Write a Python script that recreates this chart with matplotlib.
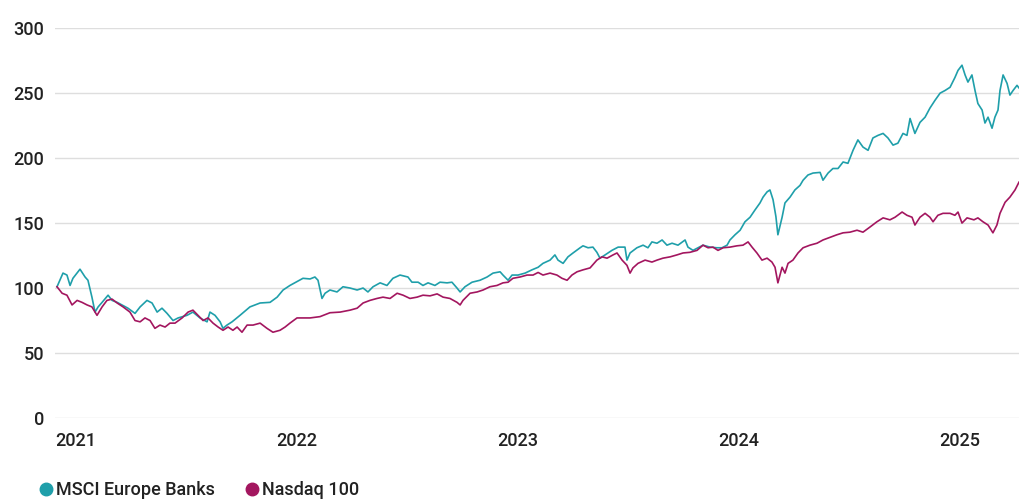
import matplotlib
matplotlib.use("Agg")
import matplotlib.pyplot as plt
from matplotlib.lines import Line2D

plt.rcParams['font.family'] = ['Roboto', 'DejaVu Sans']

# Time in decimal years (2021.0 = 1 Jan 2021)
banks_t = [2021.009, 2021.036, 2021.054, 2021.068, 2021.081, 2021.113, 2021.136, 2021.149, 2021.167, 2021.181,
           2021.195, 2021.213, 2021.240, 2021.258, 2021.281, 2021.303, 2021.330, 2021.362, 2021.385, 2021.416,
           2021.439, 2021.462, 2021.484, 2021.507, 2021.534, 2021.557, 2021.597, 2021.624, 2021.656, 2021.688,
           2021.701, 2021.724, 2021.747, 2021.760, 2021.778, 2021.801, 2021.837, 2021.882, 2021.928, 2021.973,
           2022.005, 2022.032, 2022.063, 2022.095, 2022.122, 2022.154, 2022.176, 2022.190, 2022.208, 2022.222,
           2022.244, 2022.276, 2022.303, 2022.335, 2022.367, 2022.394, 2022.416, 2022.439, 2022.471, 2022.502,
           2022.529, 2022.561, 2022.597, 2022.615, 2022.643, 2022.665, 2022.688, 2022.719, 2022.742, 2022.774,
           2022.796, 2022.819, 2022.833, 2022.855, 2022.887, 2022.923, 2022.955, 2022.982, 2023.014, 2023.027,
           2023.050, 2023.068, 2023.095, 2023.127, 2023.158, 2023.186, 2023.208, 2023.240, 2023.262, 2023.276,
           2023.299, 2023.321, 2023.344, 2023.376, 2023.389, 2023.412, 2023.434, 2023.452, 2023.466, 2023.489,
           2023.520, 2023.548, 2023.579, 2023.588, 2023.602, 2023.633, 2023.661, 2023.683, 2023.701, 2023.724,
           2023.747, 2023.769, 2023.792, 2023.819, 2023.851, 2023.864, 2023.887, 2023.910, 2023.932, 2023.964,
           2023.995, 2024.018, 2024.041, 2024.054, 2024.077, 2024.100, 2024.122, 2024.145, 2024.167, 2024.190,
           2024.204, 2024.222, 2024.235, 2024.249, 2024.262, 2024.271, 2024.290, 2024.303, 2024.326, 2024.348,
           2024.371, 2024.385, 2024.407, 2024.430, 2024.462, 2024.475, 2024.498, 2024.520, 2024.543, 2024.566,
           2024.588, 2024.611, 2024.633, 2024.656, 2024.679, 2024.701, 2024.724, 2024.747, 2024.769, 2024.792,
           2024.814, 2024.837, 2024.855, 2024.869, 2024.891, 2024.914, 2024.937, 2024.959, 2024.982, 2025.005,
           2025.027, 2025.050, 2025.072, 2025.086, 2025.104, 2025.118, 2025.131, 2025.149, 2025.163, 2025.176,
           2025.195, 2025.208, 2025.222, 2025.240, 2025.253, 2025.267, 2025.276, 2025.290, 2025.308, 2025.321,
           2025.335, 2025.353, 2025.362]
banks_v = [101, 111.5, 110, 102, 107.5, 114.5, 108.5, 106, 93, 81.5,
           85.5, 89, 94.5, 90.5, 89, 87, 84.5, 80.5, 85.5, 90.5,
           88.5, 81.5, 84.5, 80.5, 75, 77, 79, 81.5, 77, 74,
           81.5, 79, 74, 69, 71.5, 74, 79, 85.5, 88.5, 89,
           93, 98.5, 102, 105, 107.5, 107, 108.5, 106, 92, 96,
           98.5, 97, 101, 100, 98.5, 100, 97, 101, 104, 102,
           107.5, 110, 108.5, 104.5, 104.5, 102, 104, 102, 104.5, 104,
           104.5, 100, 97, 101, 104.5, 106, 108.5, 111.5, 112.5, 110,
           106, 110, 110, 111.5, 114, 116, 119, 121.5, 125.5, 121.5,
           119, 124, 127, 131, 132.5, 131, 131.5, 127.5, 123, 125.5,
           129, 131.5, 131.5, 121.5, 127, 131, 133, 131, 135.5, 134.5,
           137, 133, 134.5, 133, 137, 131.5, 129, 131, 133, 131.5,
           131, 131, 133, 137, 141, 144.5, 151, 154.5, 160, 165.5,
           170, 174, 175.5, 168, 155, 141, 154.5, 165.5, 170, 175.5,
           179, 183, 187, 188.5, 189, 183, 188.5, 192, 192, 197,
           196, 206, 214, 208.5, 206, 215.5, 217.5, 219, 215.5, 210,
           211.5, 219, 217.5, 230.5, 219, 227.5, 231.5, 238.5, 244.5, 250,
           252, 254.5, 262, 267.5, 271.5, 264, 258.5, 264, 252, 242,
           237, 227, 231.5, 223, 231.5, 237, 252, 264, 257.5, 248.5,
           252, 256, 254]

nasdaq_t = [2021.009, 2021.032, 2021.054, 2021.077, 2021.100, 2021.122, 2021.145, 2021.167, 2021.190, 2021.213,
            2021.235, 2021.258, 2021.281, 2021.308, 2021.339, 2021.362, 2021.385, 2021.407, 2021.430, 2021.452,
            2021.475, 2021.498, 2021.520, 2021.543, 2021.575, 2021.602, 2021.624, 2021.647, 2021.670, 2021.692,
            2021.715, 2021.738, 2021.760, 2021.783, 2021.805, 2021.824, 2021.846, 2021.869, 2021.896, 2021.928,
            2021.959, 2021.986, 2022.018, 2022.041, 2022.063, 2022.095, 2022.154, 2022.199, 2022.244, 2022.290,
            2022.335, 2022.367, 2022.394, 2022.425, 2022.457, 2022.484, 2022.516, 2022.548, 2022.575, 2022.606,
            2022.638, 2022.665, 2022.697, 2022.729, 2022.756, 2022.787, 2022.819, 2022.833, 2022.846, 2022.878,
            2022.910, 2022.937, 2022.968, 2023.000, 2023.027, 2023.050, 2023.072, 2023.104, 2023.136, 2023.163,
            2023.186, 2023.208, 2023.240, 2023.271, 2023.294, 2023.317, 2023.339, 2023.362, 2023.389, 2023.421,
            2023.452, 2023.475, 2023.498, 2023.525, 2023.543, 2023.566, 2023.588, 2023.602, 2023.615, 2023.638,
            2023.670, 2023.701, 2023.724, 2023.751, 2023.783, 2023.814, 2023.842, 2023.873, 2023.905, 2023.932,
            2023.955, 2023.977, 2024.000, 2024.023, 2024.054, 2024.086, 2024.113, 2024.136, 2024.154, 2024.176,
            2024.199, 2024.222, 2024.244, 2024.258, 2024.271, 2024.290, 2024.303, 2024.317, 2024.339, 2024.362,
            2024.385, 2024.416, 2024.448, 2024.475, 2024.507, 2024.538, 2024.566, 2024.597, 2024.629, 2024.656,
            2024.688, 2024.719, 2024.747, 2024.778, 2024.801, 2024.833, 2024.855, 2024.878, 2024.891, 2024.914,
            2024.937, 2024.959, 2024.973, 2024.995, 2025.018, 2025.050, 2025.072, 2025.086, 2025.104, 2025.127,
            2025.158, 2025.176, 2025.199, 2025.222, 2025.244, 2025.262, 2025.276, 2025.299, 2025.321, 2025.344,
            2025.362]
nasdaq_v = [101, 96, 94.5, 87, 90.5, 89, 87, 85.5, 79, 85.5,
            90.5, 91.5, 88.5, 85.5, 81.5, 75, 74, 77, 75, 69,
            71.5, 70, 73, 73, 77, 81.5, 83, 79, 75, 77,
            73, 70, 67.5, 70, 67.5, 70, 66, 71.5, 71.5, 73,
            69, 66, 67.5, 70, 73, 77, 77, 78, 81, 81.5,
            83, 84.5, 88.5, 90.5, 92, 93, 92, 96, 94.5, 92,
            93, 94.5, 94, 95.5, 93, 92, 89, 87, 90.5, 96,
            97, 98.5, 101, 102, 104, 104.5, 107.5, 108.5, 110, 110,
            112, 110, 111.5, 110, 107.5, 106, 110, 112.5, 114, 115.5,
            121.5, 124, 123, 125.5, 127, 121.5, 117.5, 111.5, 115.5, 119,
            121.5, 120, 121.5, 123, 124, 125.5, 127, 127.5, 129, 133,
            131, 131.5, 129, 131, 131.5, 132.5, 133, 135.5, 131.5, 127,
            121.5, 123, 120, 116, 104, 116, 111.5, 119, 121.5, 127,
            131, 133, 134.5, 137, 139, 141, 142.5, 143, 144.5, 143,
            147, 151, 154, 152.5, 154.5, 158.5, 156, 154.5, 148.5, 154.5,
            157.5, 154.5, 151, 156, 157.5, 157.5, 156, 158.5, 150, 154,
            152.5, 154, 151, 148.5, 142.5, 148.5, 157.5, 166, 170, 175.5,
            181.5]

years = [2021, 2022, 2023, 2024, 2025]
year_labels = ['2021', '2022', '2023', '2024', '2025']
y_ticks = [0, 50, 100, 150, 200, 250, 300]
series_names = ['MSCI Europe Banks', 'Nasdaq 100']
colors = ['#1f9faa', '#a3165f']

fig = plt.figure(figsize=(10.19, 5.03), dpi=100)
ax = fig.add_axes([0.054, 0.169, 0.946, 0.775])

ax.plot(banks_t, banks_v, color=colors[0], lw=1.2, zorder=3)
ax.plot(nasdaq_t, nasdaq_v, color=colors[1], lw=1.2, zorder=3)

ax.set_ylim(0, 300)
ax.set_xlim(2021.0, 2025.362)
ax.set_yticks(y_ticks)
ax.set_xticks(years)
ax.set_xticklabels(year_labels, ha='left')
ax.grid(axis='y', color='#dedede', lw=1.0)
ax.set_axisbelow(True)
for s in ax.spines.values():
    s.set_visible(False)
ax.tick_params(axis='both', length=0, labelsize=13, colors='#222222')
ax.tick_params(axis='y', pad=8)
ax.tick_params(axis='x', pad=10)
for lbl in ax.get_xticklabels() + ax.get_yticklabels():
    lbl.set_fontweight('medium')

handles = [Line2D([], [], marker='o', ls='none', color=c, markersize=9) for c in colors]
leg = fig.legend(handles, series_names, loc='center left', bbox_to_anchor=(0.039, 0.026),
                 frameon=False, fontsize=13, ncol=2, handlelength=0.7, handletextpad=0.2,
                 columnspacing=1.7, labelcolor='#222222', borderaxespad=0, borderpad=0)
for t in leg.get_texts():
    t.set_fontweight('medium')

fig.savefig('out.png', dpi=100)
